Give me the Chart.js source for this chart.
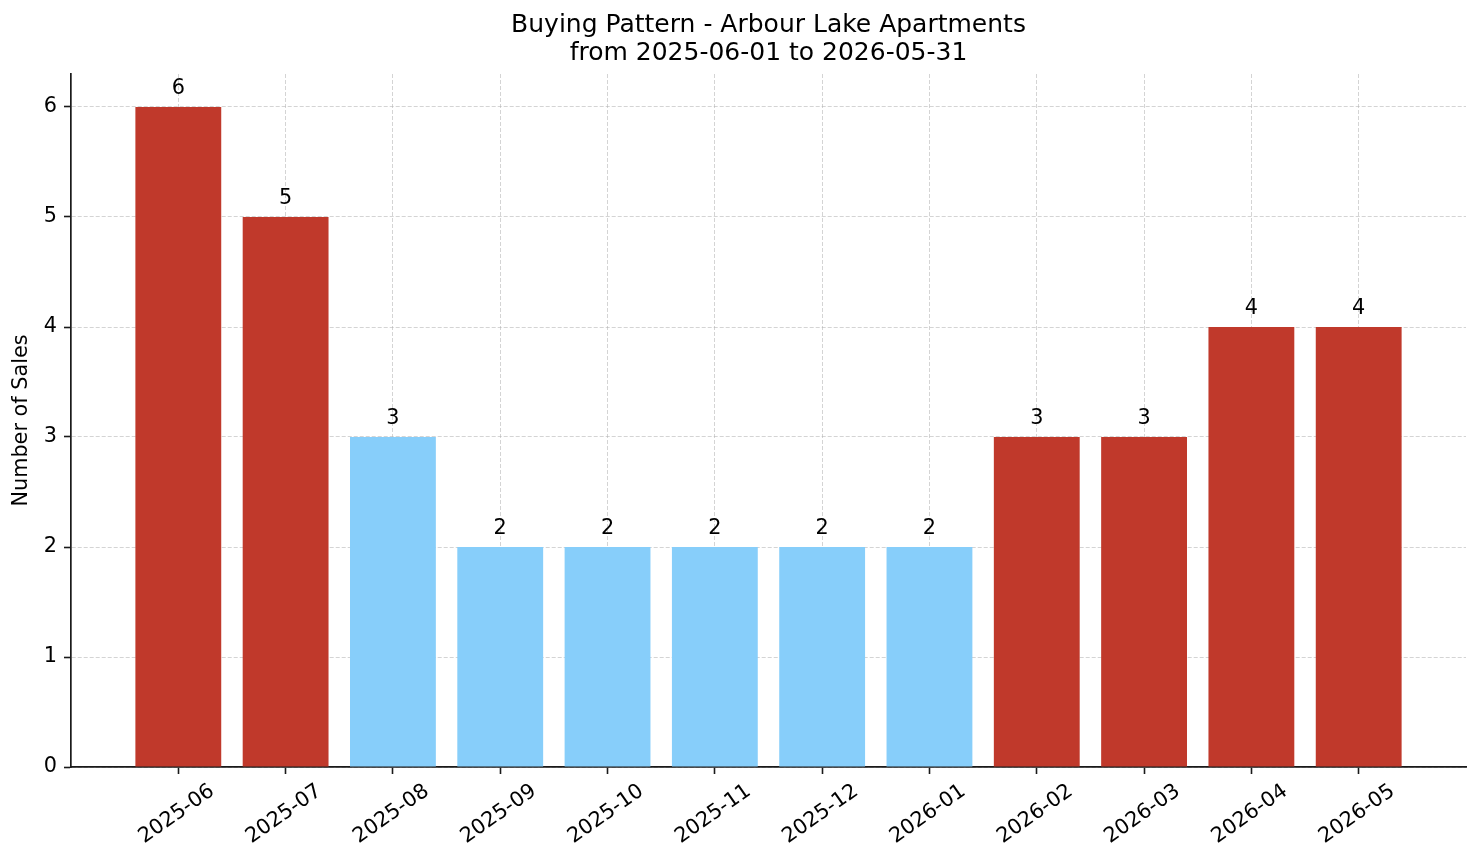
<!DOCTYPE html>
<html>
<head>
<meta charset="utf-8">
<script src="https://cdn.jsdelivr.net/npm/chart.js@4"></script>
<style>
  html, body { margin: 0; padding: 0; background: #fff; }
  #wrap { width: 1481px; height: 863px; }
</style>
</head>
<body>
<div id="wrap"><canvas id="chart" width="1481" height="863"></canvas></div>
<script>
const months = ["2025-06", "2025-07", "2025-08", "2025-09", "2025-10", "2025-11",
  "2025-12", "2026-01", "2026-02", "2026-03", "2026-04", "2026-05"];
const sales = [6, 5, 3, 2, 2, 2, 2, 2, 3, 3, 4, 4];
const highMonth = [true, true, false, false, false, false, false, false, true, true, true, true];

const RED = "#c0392b";
const BLUE = "#87cefa";
const GRID = "rgba(176,176,176,0.55)";
const INK = "#1a1a1a";

// value labels on top of each bar
const barLabels = {
  id: "barLabels",
  afterDatasetsDraw(chart) {
    const { ctx } = chart;
    const meta = chart.getDatasetMeta(0);
    ctx.save();
    ctx.font = "20.8px 'DejaVu Sans'";
    ctx.fillStyle = "#000";
    ctx.textAlign = "center";
    ctx.textBaseline = "alphabetic";
    meta.data.forEach((bar, i) => {
      ctx.fillText(String(sales[i]), bar.x, bar.y - 13);
    });
    ctx.restore();
  },
};

const inRange = (v) => v >= 0 && v <= months.length - 1;

new Chart(document.getElementById("chart"), {
  type: "bar",
  data: {
    datasets: [
      {
        label: "Number of Sales",
        data: sales.map((v, i) => ({ x: i, y: v })),
        backgroundColor: highMonth.map((h) => (h ? RED : BLUE)),
        categoryPercentage: 1,
        barPercentage: 0.8,
      },
    ],
  },
  options: {
    responsive: false,
    animation: false,
    devicePixelRatio: 1,
    layout: { padding: { left: 0, right: 15, top: 0, bottom: 0 } },
    plugins: {
      legend: { display: false },
      tooltip: { enabled: false },
      title: {
        display: true,
        fullSize: false,
        text: ["Buying Pattern - Arbour Lake Apartments", "from 2025-06-01 to 2026-05-31"],
        color: "#000",
        font: { family: "DejaVu Sans", size: 25, weight: "normal", lineHeight: 1.1 },
        padding: { top: 12, bottom: 7 },
      },
    },
    scales: {
      x: {
        type: "linear",
        min: -1,
        max: 12,
        offset: false,
        z: 1,
        afterFit: (scale) => { scale.height = 96; scale.paddingRight = 0; },
        ticks: {
          stepSize: 1,
          maxTicksLimit: 20,
          autoSkip: false,
          minRotation: 35,
          maxRotation: 35,
          padding: 5,
          labelOffset: 34,
          color: "#000",
          font: { family: "DejaVu Sans", size: 20.8 },
          callback: (v) => (inRange(v) ? months[v] : ""),
        },
        grid: {
          offset: false,
          color: (c) => (c.tick && inRange(c.tick.value) ? GRID : "rgba(0,0,0,0)"),
          tickColor: (c) => (c.tick && inRange(c.tick.value) ? INK : "rgba(0,0,0,0)"),
          tickLength: 7,
          tickWidth: 1.6,
          lineWidth: 1,
          tickBorderDash: [],
        },
        border: { display: true, color: INK, width: 1.7, dash: [4, 2] },
      },
      y: {
        min: 0,
        max: 6.3,
        z: 1,
        afterFit: (scale) => { scale.width = 71; },
        title: {
          display: true,
          text: "Number of Sales",
          color: "#000",
          font: { family: "DejaVu Sans", size: 20.8 },
          padding: { top: 9, bottom: 0 },
        },
        ticks: {
          stepSize: 1,
          includeBounds: false,
          padding: 7,
          color: "#000",
          font: { family: "DejaVu Sans", size: 20.8 },
        },
        grid: {
          color: GRID,
          tickColor: INK,
          tickLength: 7,
          tickWidth: 1.6,
          lineWidth: 1,
          tickBorderDash: [],
        },
        border: { display: true, color: INK, width: 1.7, dash: [4, 2] },
      },
    },
  },
  plugins: [barLabels],
});
</script>
</body>
</html>
